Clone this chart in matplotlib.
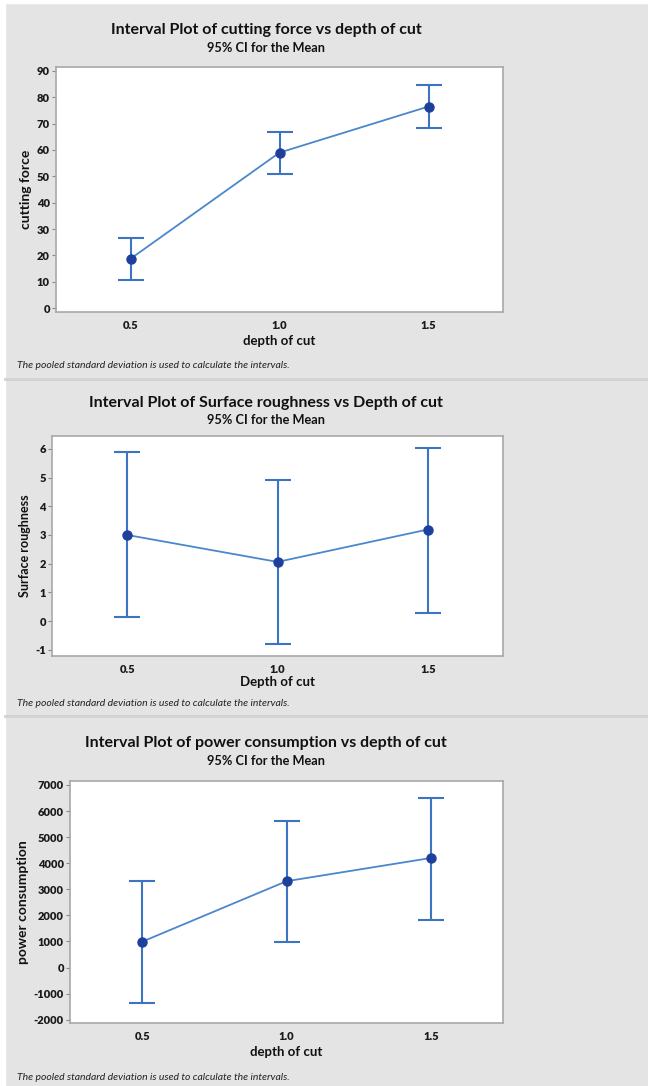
import numpy as np
import matplotlib
matplotlib.use("Agg")
import matplotlib.pyplot as plt
from matplotlib.lines import Line2D
from matplotlib.patches import Rectangle

# data
depth = [0.5, 1.0, 1.5]

force_mean = [18.7, 59.0, 76.5]
force_lo = [10.5, 50.8, 68.4]
force_hi = [26.6, 66.7, 84.7]

rough_mean = [3.0, 2.06, 3.19]
rough_lo = [0.14, -0.81, 0.28]
rough_hi = [5.88, 4.93, 6.03]

power_mean = [990, 3310, 4200]
power_lo = [-1360, 960, 1820]
power_hi = [3310, 5620, 6515]

titles = ["Interval Plot of cutting force vs depth of cut",
          "Interval Plot of Surface roughness vs Depth of cut",
          "Interval Plot of power consumption vs depth of cut"]
ylabels = ["cutting force", "Surface roughness", "power consumption"]
xlabels = ["depth of cut", "Depth of cut", "depth of cut"]
yticks = [list(range(0, 91, 10)), list(range(-1, 7)), list(range(-2000, 7001, 1000))]
ylims = [(-1.5, 91.5), (-1.22, 6.45), (-2128, 7153)]
footnote = "The pooled standard deviation is used to calculate the intervals."

W, H = 648, 1086
BG = "#e4e4e4"
FONT = ["Lato", "DejaVu Sans"]

plt.rcParams['font.family'] = FONT
plt.rcParams['axes.unicode_minus'] = False

fig = plt.figure(figsize=(W / 100, H / 100), dpi=100, facecolor=BG)

# white strip on left and top, separators between panels
fig.add_artist(Rectangle((0, 0), 5 / W, 1, transform=fig.transFigure, color="white", zorder=0))
fig.add_artist(Rectangle((0, 1 - 3 / H), 1, 3 / H, transform=fig.transFigure, color="white", zorder=0))
for ysep in [379, 716]:
    fig.add_artist(Line2D([5 / W, 1], [1 - ysep / H, 1 - ysep / H], transform=fig.transFigure,
                          color="#d2d2d2", lw=2))

# axes boxes in pixels: left, top, right, bottom
boxes = [(56, 67, 503, 312), (52, 436, 503, 656), (70, 781, 503, 1023)]
title_y = [30, 403, 743]
sub_y = [48, 420, 761]
xlab_y = [341, 682, 1052]
foot_y = [366, 703, 1077]
ylab_size = [10, 9, 10]

means = [force_mean, rough_mean, power_mean]
los = [force_lo, rough_lo, power_lo]
his = [force_hi, rough_hi, power_hi]

for i in range(3):
    l, t, r, b = boxes[i]
    ax = fig.add_axes([l / W, 1 - b / H, (r - l) / W, (b - t) / H])
    ax.set_facecolor("white")

    m = np.array(means[i])
    err = [m - np.array(los[i]), np.array(his[i]) - m]
    ax.errorbar(depth, m, yerr=err, fmt="none", ecolor="#3c74c2", elinewidth=1.5,
                capsize=9.5, capthick=1.5, zorder=2)
    ax.plot(depth, m, color="#4a87cc", lw=1.3, zorder=3)
    ax.plot(depth, m, "o", color="#1f3f9c", ms=6.5, zorder=4)

    ax.set_xlim(0.25, 1.75)
    ax.set_ylim(*ylims[i])
    ax.set_xticks(depth)
    ax.set_xticklabels(["0.5", "1.0", "1.5"])
    ax.set_yticks(yticks[i])
    for s in ax.spines.values():
        s.set_color("#a8a8a8")
        s.set_linewidth(1.2)
    ax.tick_params(axis="y", length=3, width=0.8, color="#888888", pad=1.5,
                   labelsize=8, labelcolor="#1a1a1a")
    ax.tick_params(axis="x", length=0, pad=6, labelsize=8, labelcolor="#1a1a1a")
    for lab in ax.get_yticklabels() + ax.get_xticklabels():
        lab.set_fontweight("heavy")
    ax.set_ylabel(ylabels[i], fontsize=ylab_size[i], fontweight="bold", color="#111111", labelpad=3)

    cx = (l + r) / 2
    fig.text(cx / W, 1 - xlab_y[i] / H, xlabels[i], ha="center", va="center",
             fontsize=9.5, fontweight="bold", color="#111111")
    fig.text(266 / W, 1 - title_y[i] / H, titles[i], ha="center", va="center",
             fontsize=11.5, fontweight="bold", color="#111111")
    fig.text(266 / W, 1 - sub_y[i] / H, "95% CI for the Mean", ha="center", va="center",
             fontsize=9.2, fontweight="bold", color="#111111")
    fig.text(17 / W, 1 - foot_y[i] / H, footnote, ha="left", va="center",
             fontsize=7.5, style="italic", color="#222222")

plt.savefig("out.png", dpi=100, facecolor=BG)
